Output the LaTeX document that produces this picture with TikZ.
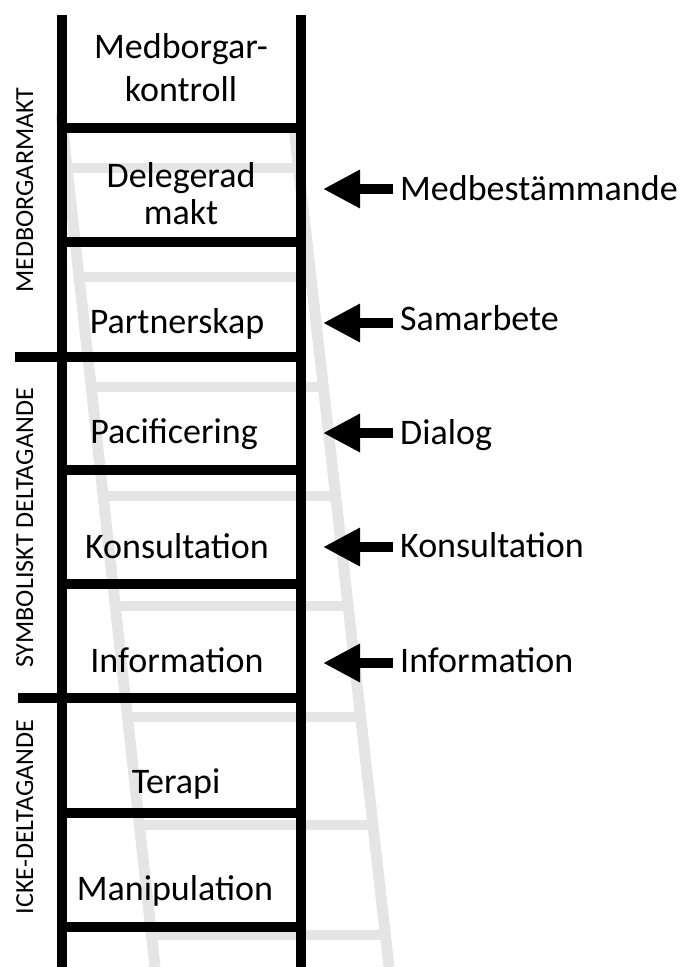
\documentclass[tikz,border=0pt]{standalone}
\usepackage{fontspec}
\setmainfont{Carlito}
\usetikzlibrary{arrows.meta}
\begin{document}
\begin{tikzpicture}[x=1pt,y=-1pt,
  rail/.style={line width=10pt},
  rung/.style={line width=10pt},
  grayrail/.style={line width=11pt,draw=black!10},
  grayrung/.style={line width=10pt,draw=black!10},
  steplabel/.style={anchor=base,inner sep=0pt,font=\fontsize{36}{40}\selectfont},
  sidelabel/.style={anchor=base west,inner sep=0pt,font=\fontsize{36}{40}\selectfont},
  grouplabel/.style={anchor=base,rotate=90,inner sep=0pt,font=\fontsize{26}{30}\selectfont},
  blockarrow/.style={line width=10pt,-{Triangle[length=37pt,width=36pt]}}
]
\useasboundingbox (0,0) rectangle (687,967);
% background gray ladder
\coordinate (gl0) at (61,113);
\coordinate (gl1) at (155,967);
\coordinate (gr0) at (294,128);
\coordinate (gr1) at (389,967);
\draw[grayrail] (gl0) -- (gl1);
\draw[grayrail] (gr0) -- (gr1);
\foreach \y in {168,277,387,496,606,717,825,935}{
  \draw[grayrung] ({61+0.110*(\y-113)},\y) -- ({292+0.1136*(\y-113)},\y);
}
% black ladder
\coordinate (lt) at (62,15);
\coordinate (lb) at (62,967);
\coordinate (rt) at (301,15);
\coordinate (rb) at (301,967);
\draw[rail] (lt) -- (lb);
\draw[rail] (rt) -- (rb);
\foreach \y in {128,242,470,584,813,927}{
  \draw[rung] (62,\y) -- (301,\y);
}
\draw[rung] (15,357) -- (301,357);
\draw[rung] (18,698) -- (301,698);
% ladder step labels
\node[steplabel] (s1a) at (181,58) {Medborgar-};
\node[steplabel] (s1b) at (181,101) {kontroll};
\node[steplabel] (s2a) at (181,187) {Delegerad};
\node[steplabel] (s2b) at (181,224) {makt};
\node[steplabel] (s3) at (177,333) {Partnerskap};
\node[steplabel] (s4) at (174,443) {Pacificering};
\node[steplabel] (s5) at (177,558) {Konsultation};
\node[steplabel] (s6) at (177,672) {Information};
\node[steplabel] (s7) at (176,793) {Terapi};
\node[steplabel] (s8) at (175,900) {Manipulation};
% group labels
\node[grouplabel] (g1) at (33,190) {MEDBORGARMAKT};
\node[grouplabel] (g2) at (33,528) {SYMBOLISKT DELTAGANDE};
\node[grouplabel] (g3) at (33,817) {ICKE-DELTAGANDE};
% side labels and arrows
\foreach \n/\yb/\yc/\t in {a/200/189/Medbestämmande,b/330/323/Samarbete,c/444/433/Dialog,d/557/547/Konsultation,e/672/663/Information}{
  \node[sidelabel] (lab\n) at (400,\yb) {\t};
  \coordinate (from\n) at (393,\yc);
  \coordinate (tip\n) at (323,\yc);
  \draw[blockarrow] (from\n) -- (tip\n);
}
\end{tikzpicture}
\end{document}
